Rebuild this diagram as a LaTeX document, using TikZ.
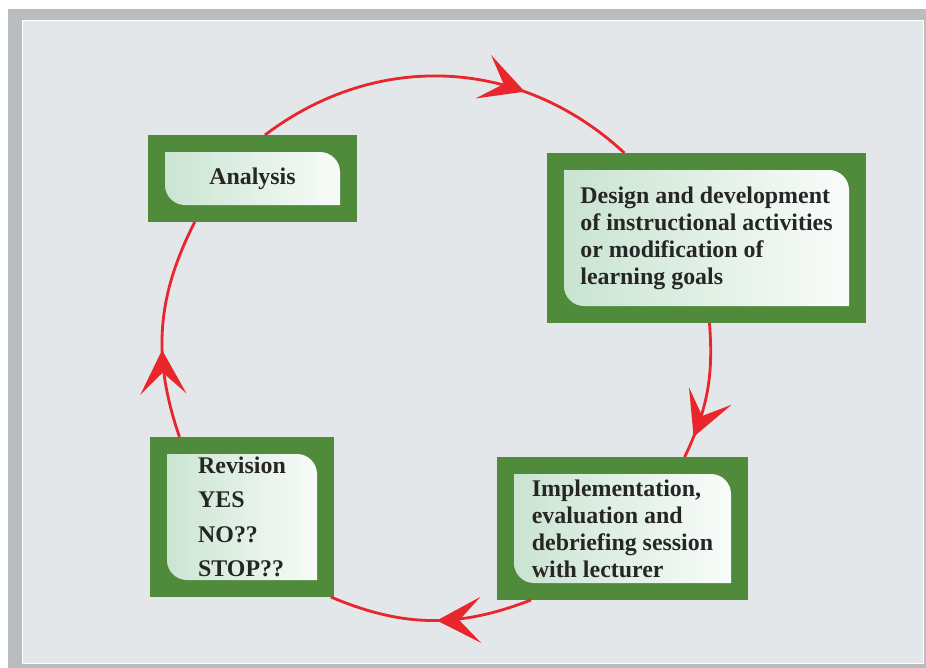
\documentclass[tikz,border=0pt]{standalone}
\usepackage{fontspec}
\setmainfont{Liberation Serif}
\usetikzlibrary{arrows.meta,decorations.markings}
\definecolor{frameGray}{RGB}{185,189,192}
\definecolor{paneGray}{RGB}{228,231,233}
\definecolor{boxGreen}{RGB}{79,139,58}
\definecolor{boxMint}{RGB}{198,226,206}
\definecolor{loopRed}{RGB}{232,38,43}
\definecolor{txtGray}{RGB}{38,38,38}

\begin{document}
\begin{tikzpicture}[every node/.style={font=\fontsize{13.6}{15.4}\selectfont\bfseries, text=txtGray},
	stage/.style={fill=boxGreen, inner sep=0pt, outer sep=0pt, align=left, path picture={
		\shade[left color=boxMint, right color=white!96!boxMint] ([shift={(0.34,-0.34)}]path picture bounding box.north west) -- ([shift={(-0.74,-0.34)}]path picture bounding box.north east) arc[start angle=90, end angle=0, radius=0.4] -- ([shift={(-0.34,0.34)}]path picture bounding box.south east) -- ([shift={(0.74,0.34)}]path picture bounding box.south west) arc[start angle=270, end angle=180, radius=0.4] -- cycle;}},
	cyclearc/.style={draw=loopRed, line width=1.6pt, postaction={decorate}, decoration={markings, mark=at position #1 with {\arrow[loopRed]{Stealth[length=0.88cm, width=0.92cm, inset=0.43cm]}}}}]
	\useasboundingbox (0,0) rectangle (18.52,-13.36);
	% frame and pane
	\fill[white] (0,0) rectangle (18.52,-13.36);
	\fill[frameGray] (0.16,-0.18) rectangle (18.52,-13.36);
	\fill[paneGray, draw=white, line width=0.5pt] (0.44,-0.40) rectangle (18.46,-13.26);
	% the four stages
	\node[stage, minimum width=4.18cm, minimum height=1.74cm] (ana) at (5.05,-3.57) {Analysis};
	\node[stage, minimum width=6.38cm, minimum height=3.4cm] (des) at (14.13,-4.76) {Design and development\\of instructional activities\\or modification of\\learning goals};
	\node[stage, minimum width=5.02cm, minimum height=2.86cm] (imp) at (12.45,-10.57) {Implementation,\\evaluation and\\debriefing session\\with lecturer};
	\node[stage, minimum width=3.68cm, minimum height=3.2cm, font=\fontsize{13.6}{19.6}\selectfont\bfseries] (rev) at (4.84,-10.34) {Revision\\YES\\NO??\\STOP??};
	% the cycle
	\draw[cyclearc=0.70] (ana.74) to[bend left=40] (des.134);
	\draw[cyclearc=0.84] (des.272) to[bend left=15] (imp.49);
	\draw[cyclearc=0.47] (imp.218) to[bend left=22] (rev.318);
	\draw[cyclearc=0.40] (rev.128) to[bend left=23] (ana.217);
\end{tikzpicture}
\end{document}
